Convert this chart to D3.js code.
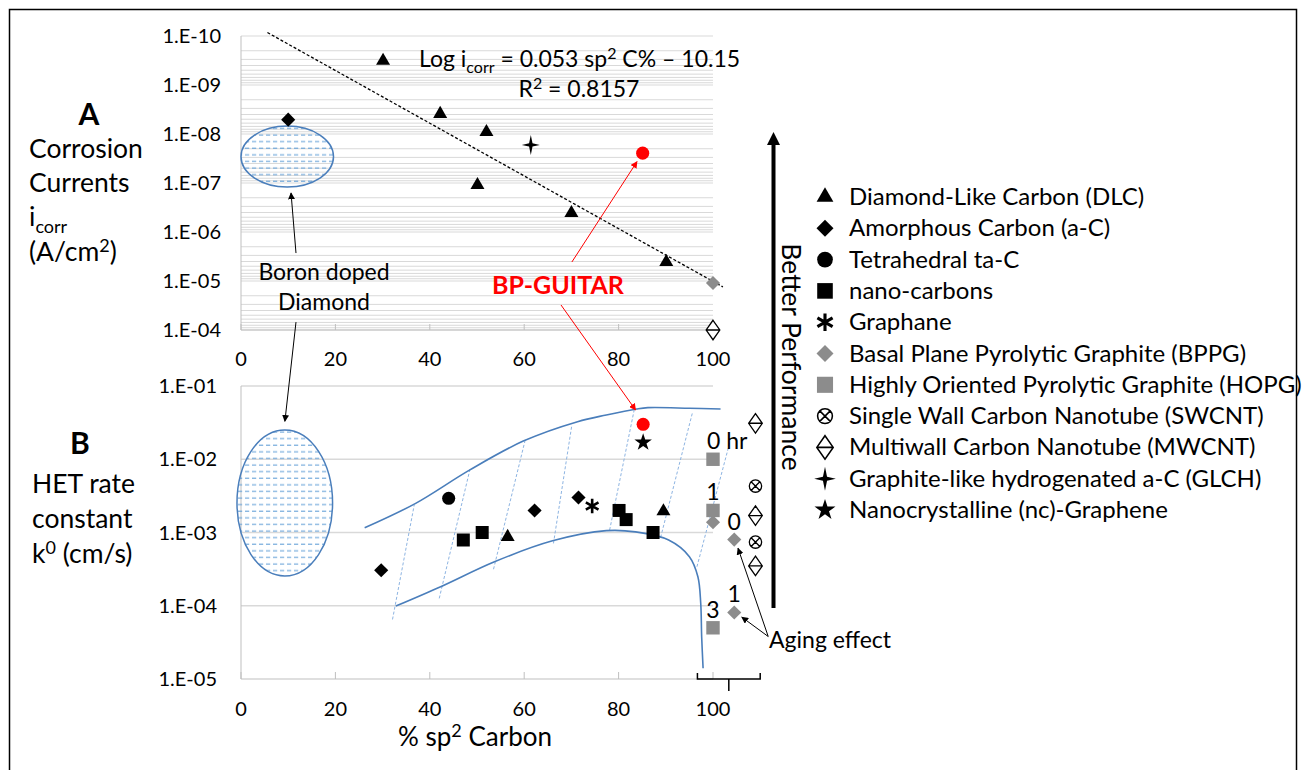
<!DOCTYPE html>
<html>
<head>
<meta charset="utf-8">
<script src="https://cdn.jsdelivr.net/npm/d3@7"></script>
<style>
  body { margin: 0; background: #fff; }
  svg { display: block; }
  text { font-family: Lato, sans-serif; fill: #000; }
</style>
</head>
<body>
<div id="chart"></div>
<script>
// ---------- data ----------
const sp2Ticks = [0, 20, 40, 60, 80, 100];
const icorrTicks = [1e-10, 1e-9, 1e-8, 1e-7, 1e-6, 1e-5, 1e-4];
const hetTicks = [1e-1, 1e-2, 1e-3, 1e-4, 1e-5];

// panel A: corrosion current (sp2 %, A/cm2)
const dlcA = [[30.1, 3.2e-10], [42.2, 3.9e-9], [52.0, 9.1e-9], [50.1, 1.1e-7], [70.0, 4.1e-7], [90.1, 4.1e-6]];
const acA = [[10.0, 5.1e-9]];
const glchA = [[61.4, 1.67e-8]];
const guitarA = [[85.1, 2.46e-8]];
const bppgA = [[100, 1.1e-5]];
const mwcntA = [[100, 1e-4]];
const trendA = [[5.6, 8.5e-11], [102.1, 1.32e-5]];
const bddA = [[0, 6.9e-9], [19.6, 1.21e-7]];   // boron doped diamond region

// panel B: HET rate constant (sp2 %, cm/s)
const dlcB = [[56.5, 8.7e-4], [89.5, 1.95e-3]];
const acB = [[29.7, 3.05e-4], [62.2, 2.0e-3], [71.5, 3.0e-3]];
const tacB = [[44.0, 2.93e-3]];
const nanoB = [[47.1, 7.9e-4], [51.1, 1.0e-3], [80.1, 2.0e-3], [81.6, 1.5e-3], [87.3, 1.0e-3]];
const graphaneB = [[74.4, 2.3e-3]];
const bppgB = [[100, 1.38e-3], [104.5, 8.0e-4], [104.5, 8.1e-5]];
const hopgB = [[100, 1e-2], [100, 2e-3], [100, 5e-5]];
const swcntB = [[109, 4.3e-3], [109, 7.4e-4]];
const mwcntB = [[109, 3.1e-2], [109, 1.7e-3], [109, 3.5e-4]];
const ncgB = [[85.2, 1.7e-2]];
const guitarB = [[85.2, 3.0e-2]];
const bddB = [[-0.85, 2.51e-2], [19.4, 2.55e-4]];

const upperEnv = [[26.2, 1.16e-3], [37.0, 2.5e-3], [48.4, 7.1e-3], [59.8, 1.77e-2], [71.3, 3.26e-2],
  [77.4, 4.02e-2], [83.8, 4.85e-2], [86.2, 5.06e-2], [95.0, 4.97e-2], [101.6, 4.85e-2]];
const lowerEnv = [[32.8, 9.9e-5], [42.3, 1.82e-4], [53.7, 3.99e-4], [66.0, 7.7e-4], [77.4, 1.06e-3],
  [83.6, 1.02e-3], [90.6, 7.9e-4], [95.0, 4.68e-4], [96.8, 2.49e-4], [97.4, 1.08e-4],
  [97.6, 3.78e-5], [97.9, 1.40e-5]];
const hatch = [[32.1, 6.5e-5, 36.7, 2.37e-3], [42.0, 1.26e-4, 48.6, 7.7e-3], [53.5, 3.15e-4, 60.3, 1.93e-2],
  [66.2, 7.1e-4, 70.1, 2.94e-2], [78.1, 1.08e-3, 83.3, 4.7e-2], [88.9, 8.55e-4, 95.7, 4.46e-2],
  [96.6, 3.41e-4, 103.6, 1.74e-2]];

const agingLabels = [[100, 1e-2, '0 hr'], [100, 2e-3, '1'], [100, 5e-5, '3'], [104.5, 8.0e-4, '0'], [104.5, 8.1e-5, '1']];

const legendItems = [
  ['dlc', 'Diamond-Like Carbon (DLC)'],
  ['ac', 'Amorphous Carbon (a-C)'],
  ['tac', 'Tetrahedral ta-C'],
  ['nano', 'nano-carbons'],
  ['graphane', 'Graphane'],
  ['bppg', 'Basal Plane Pyrolytic Graphite (BPPG)'],
  ['hopg', 'Highly Oriented Pyrolytic Graphite (HOPG)'],
  ['swcnt', 'Single Wall Carbon Nanotube (SWCNT)'],
  ['mwcnt', 'Multiwall Carbon Nanotube (MWCNT)'],
  ['glch', 'Graphite-like hydrogenated a-C (GLCH)'],
  ['ncg', 'Nanocrystalline (nc)-Graphene']
];

// ---------- setup ----------
const svg = d3.select('#chart').append('svg')
    .attr('width', 1304)
    .attr('height', 770);

const x = d3.scaleLinear().domain([0, 100]).range([241, 713]);
const yA = d3.scaleLog().domain([1e-10, 1e-4]).range([36, 330]);
const yB = d3.scaleLog().domain([1e-1, 1e-5]).range([386, 679]);

const grey = '#8c8c8c';
const blue = '#4a7ebb';
const fmtE = v => {
  let e = Math.round(Math.log10(v));
  return '1.E' + (e < 0 ? '-' : '+') + String(Math.abs(e)).padStart(2, '0');
};

let defs = svg.append('defs');
let pat = defs.append('pattern')
    .attr('id', 'dash')
    .attr('patternUnits', 'userSpaceOnUse')
    .attr('width', 7)
    .attr('height', 6.6);
pat.append('line')
    .attr('x1', 0).attr('x2', 4.2).attr('y1', 3).attr('y2', 3)
    .attr('stroke', '#5b9bd5').attr('stroke-width', 1);

[['arrBlack', '#000'], ['arrRed', '#ff0000']].forEach(m => {
  defs.append('marker')
      .attr('id', m[0])
      .attr('viewBox', '0 0 10 10')
      .attr('refX', 9).attr('refY', 5)
      .attr('markerWidth', 7).attr('markerHeight', 7)
      .attr('markerUnits', 'userSpaceOnUse')
      .attr('orient', 'auto')
      .append('path')
      .attr('d', 'M0,0 L10,5 L0,10 Z')
      .attr('fill', m[1]);
});

// frame
svg.append('rect')
    .attr('x', 9.5).attr('y', 9.5)
    .attr('width', 1287).attr('height', 800)
    .attr('fill', 'none').attr('stroke', '#000').attr('stroke-width', 1.5);

// ---------- custom marker shapes ----------
const glchType = {
  draw(ctx, size) {
    let r = Math.sqrt(size), q = r * 0.17;
    ctx.moveTo(0, -r); ctx.lineTo(q, -q); ctx.lineTo(r * 0.9, 0); ctx.lineTo(q, q);
    ctx.lineTo(0, r); ctx.lineTo(-q, q); ctx.lineTo(-r * 0.9, 0); ctx.lineTo(-q, -q);
    ctx.closePath();
  }
};
const mwcntType = {
  draw(ctx, size) {
    let h = Math.sqrt(size), w = h * 0.7;
    ctx.moveTo(0, -h); ctx.lineTo(w, 0); ctx.lineTo(0, h); ctx.lineTo(-w, 0); ctx.closePath();
    ctx.moveTo(-w, 0); ctx.lineTo(w, 0);
  }
};
const swcntType = {
  draw(ctx, size) {
    let r = Math.sqrt(size), d = r * 0.707;
    ctx.moveTo(r, 0); ctx.arc(0, 0, r, 0, 2 * Math.PI);
    ctx.moveTo(-d, -d); ctx.lineTo(d, d);
    ctx.moveTo(-d, d); ctx.lineTo(d, -d);
  }
};

function drawMarker(g, kind) {
  let p = g.append('path');
  switch (kind) {
    case 'dlc': p.attr('d', d3.symbol(d3.symbolTriangle, 85)()).attr('fill', '#000'); break;
    case 'ac': p.attr('d', d3.symbol(d3.symbolSquare, 100)()).attr('transform', 'rotate(45)').attr('fill', '#000'); break;
    case 'tac': p.attr('d', d3.symbol(d3.symbolCircle, 135)()).attr('fill', '#000'); break;
    case 'nano': p.attr('d', d3.symbol(d3.symbolSquare, 169)()).attr('fill', '#000'); break;
    case 'graphane': p.attr('d', d3.symbol(d3.symbolAsterisk, 150)()).attr('fill', 'none').attr('stroke', '#000').attr('stroke-width', 2.6); break;
    case 'bppg': p.attr('d', d3.symbol(d3.symbolSquare, 100)()).attr('transform', 'rotate(45)').attr('fill', grey); break;
    case 'hopg': p.attr('d', d3.symbol(d3.symbolSquare, 180)()).attr('fill', grey); break;
    case 'swcnt': p.attr('d', d3.symbol(swcntType, 38)()).attr('fill', '#fff').attr('stroke', '#000').attr('stroke-width', 1.3); break;
    case 'mwcnt': p.attr('d', d3.symbol(mwcntType, 95)()).attr('fill', '#fff').attr('stroke', '#000').attr('stroke-width', 1.3); break;
    case 'glch': p.attr('d', d3.symbol(glchType, 100)()).attr('fill', '#000'); break;
    case 'ncg': p.attr('d', d3.symbol(d3.symbolStar, 95)()).attr('fill', '#000'); break;
    case 'guitar': p.attr('d', d3.symbol(d3.symbolCircle, 135)()).attr('fill', '#ff0000'); break;
  }
}

function plotSeries(data, kind, yScale) {
  data.forEach(d => {
    let g = svg.append('g').attr('transform', `translate(${x(d[0])},${yScale(d[1])})`);
    drawMarker(g, kind);
  });
}

// ---------- panel A ----------
let minorA = d3.range(-10, -4).flatMap(e => d3.range(1, 10).map(m => m * Math.pow(10, e))).concat([1e-4]);
svg.append('g').selectAll('line')
    .data(minorA)
    .enter()
    .append('line')
    .attr('x1', x(0)).attr('x2', x(100))
    .attr('y1', d => yA(d)).attr('y2', d => yA(d))
    .attr('stroke', '#d9d9d9').attr('stroke-width', 1);

svg.append('line')
    .attr('x1', x(0)).attr('x2', x(0)).attr('y1', yA(1e-10)).attr('y2', yA(1e-4))
    .attr('stroke', '#bfbfbf');
svg.append('line')
    .attr('x1', x(0)).attr('x2', x(100)).attr('y1', yA(1e-4)).attr('y2', yA(1e-4))
    .attr('stroke', '#bfbfbf');
svg.append('g').selectAll('line')
    .data(sp2Ticks)
    .enter()
    .append('line')
    .attr('x1', d => x(d)).attr('x2', d => x(d))
    .attr('y1', yA(1e-4)).attr('y2', yA(1e-4) - 6)
    .attr('stroke', '#bfbfbf');

svg.append('g').selectAll('text')
    .data(icorrTicks)
    .enter()
    .append('text')
    .attr('x', 221).attr('y', d => yA(d) + 7)
    .attr('text-anchor', 'end')
    .style('font-size', '20px')
    .text(fmtE);
svg.append('g').selectAll('text')
    .data(sp2Ticks)
    .enter()
    .append('text')
    .attr('x', d => x(d)).attr('y', yA(1e-4) + 36)
    .attr('text-anchor', 'middle')
    .style('font-size', '20px')
    .text(d => d);

// boron doped diamond region A
svg.append('ellipse')
    .attr('cx', (x(bddA[0][0]) + x(bddA[1][0])) / 2)
    .attr('cy', (yA(bddA[0][1]) + yA(bddA[1][1])) / 2)
    .attr('rx', (x(bddA[1][0]) - x(bddA[0][0])) / 2)
    .attr('ry', (yA(bddA[1][1]) - yA(bddA[0][1])) / 2)
    .attr('fill', 'url(#dash)').attr('stroke', blue).attr('stroke-width', 1.5);

// trend line
svg.append('line')
    .attr('x1', x(trendA[0][0])).attr('y1', yA(trendA[0][1]))
    .attr('x2', x(trendA[1][0])).attr('y2', yA(trendA[1][1]))
    .attr('stroke', '#000').attr('stroke-width', 1.3).attr('stroke-dasharray', '3,2');

plotSeries(acA, 'ac', yA);
plotSeries(dlcA, 'dlc', yA);
plotSeries(glchA, 'glch', yA);
plotSeries(guitarA, 'guitar', yA);
plotSeries(bppgA, 'bppg', yA);
plotSeries(mwcntA, 'mwcnt', yA);

let eq = svg.append('text').attr('x', 419).attr('y', 67).style('font-size', '23px');
eq.append('tspan').text('Log i');
eq.append('tspan').attr('dy', 6).style('font-size', '16px').text('corr');
eq.append('tspan').attr('dy', -6).text(' = 0.053 sp');
eq.append('tspan').attr('dy', -8).style('font-size', '16px').text('2');
eq.append('tspan').attr('dy', 8).text(' C% \u2013 10.15');
let r2 = svg.append('text').attr('x', 579).attr('y', 97).attr('text-anchor', 'middle').style('font-size', '23px');
r2.append('tspan').text('R');
r2.append('tspan').attr('dy', -8).style('font-size', '16px').text('2');
r2.append('tspan').attr('dy', 8).text(' = 0.8157');

// ---------- panel B ----------
svg.append('g').selectAll('line')
    .data(hetTicks.slice(0, 4))
    .enter()
    .append('line')
    .attr('x1', x(0)).attr('x2', x(100))
    .attr('y1', d => yB(d)).attr('y2', d => yB(d))
    .attr('stroke', '#d9d9d9').attr('stroke-width', 1.3);
svg.append('line')
    .attr('x1', x(0)).attr('x2', x(0)).attr('y1', yB(1e-1)).attr('y2', yB(1e-5))
    .attr('stroke', '#bfbfbf');
svg.append('line')
    .attr('x1', x(0)).attr('x2', x(100)).attr('y1', yB(1e-5)).attr('y2', yB(1e-5))
    .attr('stroke', '#bfbfbf');
svg.append('g').selectAll('line')
    .data(sp2Ticks)
    .enter()
    .append('line')
    .attr('x1', d => x(d)).attr('x2', d => x(d))
    .attr('y1', yB(1e-5)).attr('y2', yB(1e-5) - 7)
    .attr('stroke', '#bfbfbf');
svg.append('g').selectAll('text')
    .data(hetTicks)
    .enter()
    .append('text')
    .attr('x', 217).attr('y', d => yB(d) + 7)
    .attr('text-anchor', 'end')
    .style('font-size', '20px')
    .text(fmtE);
svg.append('g').selectAll('text')
    .data(sp2Ticks)
    .enter()
    .append('text')
    .attr('x', d => x(d)).attr('y', yB(1e-5) + 37)
    .attr('text-anchor', 'middle')
    .style('font-size', '20px')
    .text(d => d);

let xt = svg.append('text').attr('x', 475).attr('y', 746).attr('text-anchor', 'middle').style('font-size', '26px');
xt.append('tspan').text('% sp');
xt.append('tspan').attr('dy', -9).style('font-size', '18px').text('2');
xt.append('tspan').attr('dy', 9).text(' Carbon');

// bracket under the axis
let bx0 = x(96.7), bx1 = x(110), by = yB(1e-5);
svg.append('path')
    .attr('d', `M${bx0},${by - 6}V${by}H${bx1}V${by - 6}M${(bx0 + bx1) / 2},${by}v12`)
    .attr('fill', 'none').attr('stroke', '#000').attr('stroke-width', 1.5);

// boron doped diamond region B
svg.append('ellipse')
    .attr('cx', (x(bddB[0][0]) + x(bddB[1][0])) / 2)
    .attr('cy', (yB(bddB[0][1]) + yB(bddB[1][1])) / 2)
    .attr('rx', (x(bddB[1][0]) - x(bddB[0][0])) / 2)
    .attr('ry', (yB(bddB[1][1]) - yB(bddB[0][1])) / 2)
    .attr('fill', 'url(#dash)').attr('stroke', blue).attr('stroke-width', 1.5);

// envelope
svg.append('g').selectAll('line')
    .data(hatch)
    .enter()
    .append('line')
    .attr('x1', d => x(d[0])).attr('y1', d => yB(d[1]))
    .attr('x2', d => x(d[2])).attr('y2', d => yB(d[3]))
    .attr('stroke', '#8db4e2').attr('stroke-width', 1).attr('stroke-dasharray', '3,2');
let env = d3.line().x(d => x(d[0])).y(d => yB(d[1])).curve(d3.curveCatmullRom);
[upperEnv, lowerEnv].forEach(c => {
  svg.append('path')
      .attr('d', env(c))
      .attr('fill', 'none').attr('stroke', blue).attr('stroke-width', 1.6);
});

plotSeries(acB, 'ac', yB);
plotSeries(tacB, 'tac', yB);
plotSeries(nanoB, 'nano', yB);
plotSeries(dlcB, 'dlc', yB);
plotSeries(graphaneB, 'graphane', yB);
plotSeries(guitarB, 'guitar', yB);
plotSeries(ncgB, 'ncg', yB);
plotSeries(hopgB, 'hopg', yB);
plotSeries(bppgB, 'bppg', yB);
plotSeries(swcntB, 'swcnt', yB);
plotSeries(mwcntB, 'mwcnt', yB);

svg.append('g').selectAll('text')
    .data(agingLabels)
    .enter()
    .append('text')
    .attr('x', d => d[2].length > 1 ? x(d[0]) - 6 : x(d[0]))
    .attr('y', d => yB(d[1]) - 10)
    .attr('text-anchor', d => d[2].length > 1 ? 'start' : 'middle')
    .style('font-size', '23px')
    .text(d => d[2]);

// aging effect annotation
let agingFrom = [111.7, 3.8e-5];
[[105.3, 6.1e-4], [106.1, 7.0e-5]].forEach(t => {
  svg.append('line')
      .attr('x1', x(agingFrom[0])).attr('y1', yB(agingFrom[1]))
      .attr('x2', x(t[0])).attr('y2', yB(t[1]))
      .attr('stroke', '#000').attr('stroke-width', 1).attr('marker-end', 'url(#arrBlack)');
});
svg.append('text').attr('x', 769).attr('y', 648).style('font-size', '23px').text('Aging effect');

// ---------- cross-panel annotations ----------
// [sp2, value, panel]
const boronArrows = [
  [[11.65, 2.69e-6, 'A'], [10.6, 1.6e-7, 'A']],
  [[11.65, 6.9e-5, 'A'], [9.3, 3.3e-2, 'B']]
];
const guitarArrows = [
  [[70.1, 4.1e-6, 'A'], [83.9, 3.67e-8, 'A']],
  [[67.8, 3.09e-5, 'A'], [83.6, 4.7e-2, 'B']]
];
const py = p => p[2] === 'A' ? yA(p[1]) : yB(p[1]);
boronArrows.forEach(a => {
  svg.append('line')
      .attr('x1', x(a[0][0])).attr('y1', py(a[0]))
      .attr('x2', x(a[1][0])).attr('y2', py(a[1]))
      .attr('stroke', '#000').attr('stroke-width', 1).attr('marker-end', 'url(#arrBlack)');
});
guitarArrows.forEach(a => {
  svg.append('line')
      .attr('x1', x(a[0][0])).attr('y1', py(a[0]))
      .attr('x2', x(a[1][0])).attr('y2', py(a[1]))
      .attr('stroke', '#ff0000').attr('stroke-width', 1).attr('marker-end', 'url(#arrRed)');
});

svg.append('text').attr('x', 324).attr('y', 280).attr('text-anchor', 'middle').style('font-size', '23px').text('Boron doped');
svg.append('text').attr('x', 324).attr('y', 310).attr('text-anchor', 'middle').style('font-size', '23px').text('Diamond');
svg.append('text').attr('x', 558).attr('y', 294).attr('text-anchor', 'middle')
    .style('font-size', '25px').style('font-weight', 'bold').style('fill', '#ff0000')
    .text('BP-GUITAR');

// ---------- left titles ----------
svg.append('text').attr('x', 89).attr('y', 125).attr('text-anchor', 'middle')
    .style('font-size', '30px').style('font-weight', 'bold').text('A');
svg.append('text').attr('x', 29).attr('y', 158).style('font-size', '26.5px').text('Corrosion');
svg.append('text').attr('x', 29).attr('y', 192).style('font-size', '26.5px').text('Currents');
let ic = svg.append('text').attr('x', 29).attr('y', 226).style('font-size', '26.5px');
ic.append('tspan').text('i');
ic.append('tspan').attr('dy', 7).style('font-size', '18px').text('corr');
let un = svg.append('text').attr('x', 29).attr('y', 261).style('font-size', '26.5px');
un.append('tspan').text('(A/cm');
un.append('tspan').attr('dy', -9).style('font-size', '18px').text('2');
un.append('tspan').attr('dy', 9).text(')');

svg.append('text').attr('x', 80).attr('y', 454).attr('text-anchor', 'middle')
    .style('font-size', '30px').style('font-weight', 'bold').text('B');
svg.append('text').attr('x', 32).attr('y', 493).style('font-size', '26.5px').text('HET rate');
svg.append('text').attr('x', 32).attr('y', 528).style('font-size', '26.5px').text('constant');
let kt = svg.append('text').attr('x', 32).attr('y', 563).style('font-size', '26.5px');
kt.append('tspan').text('k');
kt.append('tspan').attr('dy', -9).style('font-size', '18px').text('0');
kt.append('tspan').attr('dy', 9).text(' (cm/s)');

// ---------- better performance arrow ----------
svg.append('line')
    .attr('x1', 773.5).attr('x2', 773.5).attr('y1', 608).attr('y2', 140)
    .attr('stroke', '#000').attr('stroke-width', 4);
svg.append('path')
    .attr('d', 'M773.5,132 L780,145 L767,145 Z')
    .attr('fill', '#000');
svg.append('text')
    .attr('transform', 'translate(792,357) rotate(90)')
    .attr('text-anchor', 'middle')
    .attr('dominant-baseline', 'central')
    .style('font-size', '26.5px')
    .text('Better Performance');

// ---------- legend ----------
let legend = svg.append('g').attr('transform', 'translate(825,197)');
legendItems.forEach((d, i) => {
  let row = legend.append('g').attr('transform', `translate(0,${i * 31.3})`);
  let m = row.append('g').attr('transform', 'scale(1.2)');
  drawMarker(m, d[0]);
  row.append('text')
      .attr('x', 24).attr('y', 8)
      .style('font-size', '24px')
      .text(d[1]);
});
</script>
</body>
</html>
